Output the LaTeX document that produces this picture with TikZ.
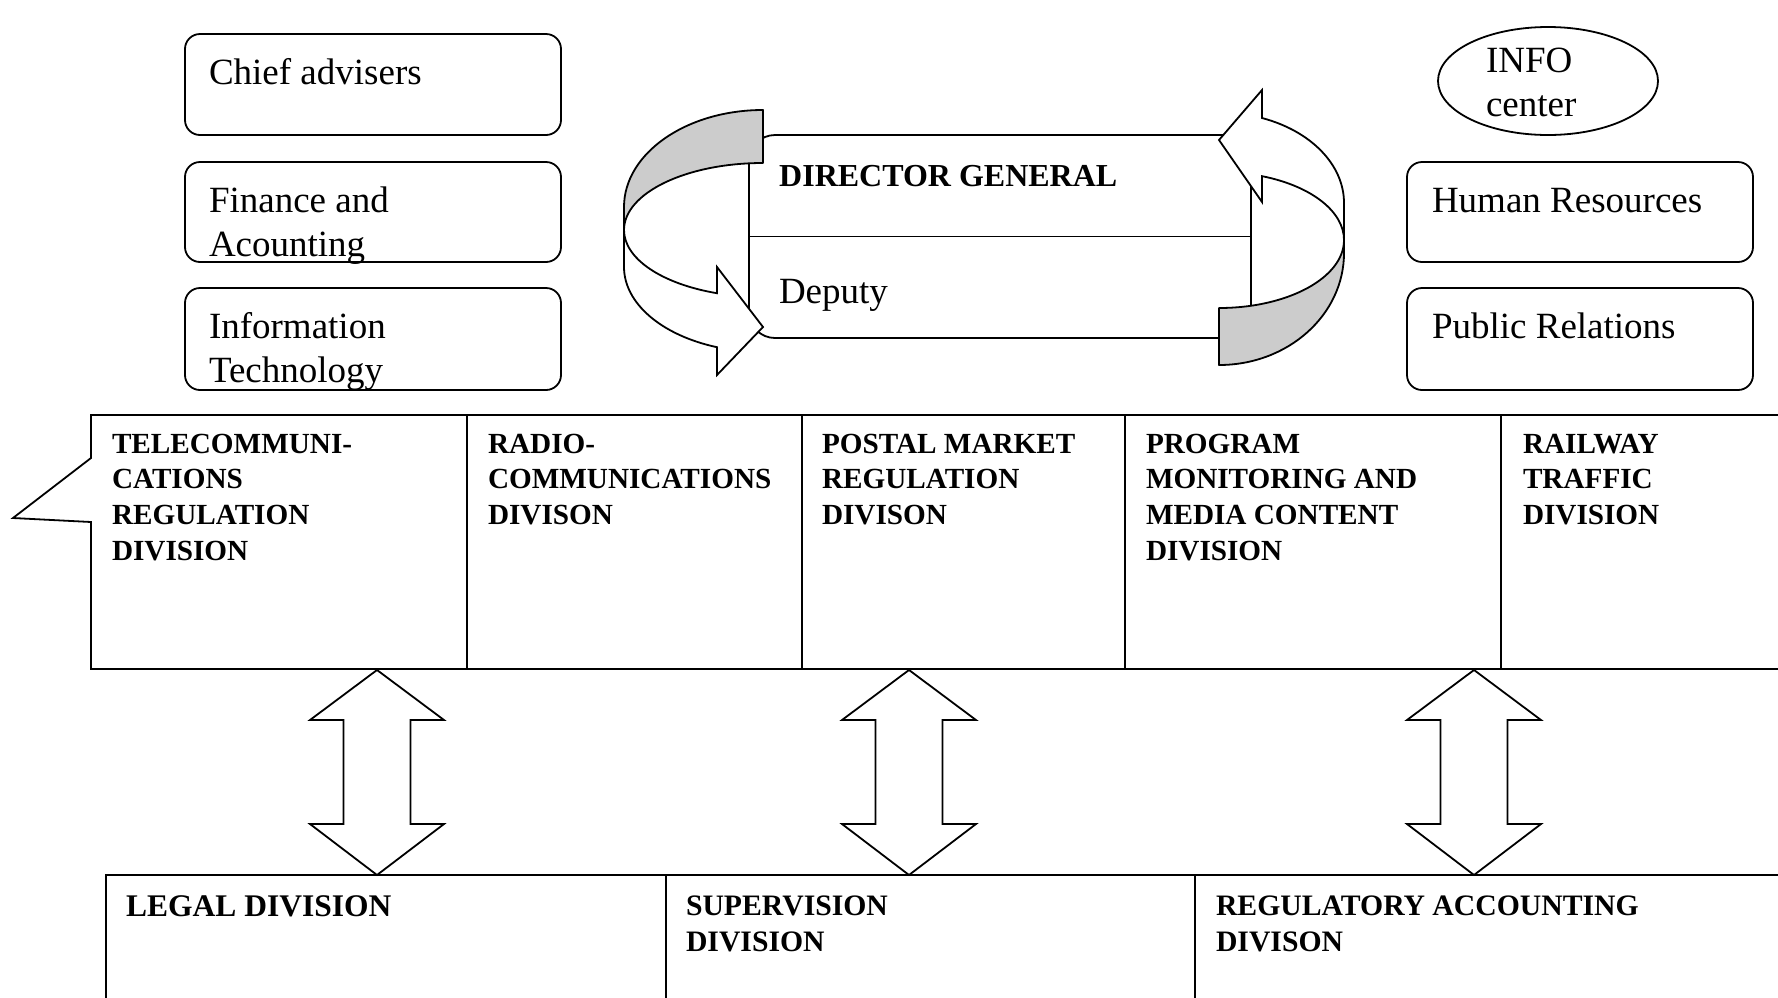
\documentclass[tikz,border=0pt]{standalone}
\usepackage{fontspec}
\setmainfont{Liberation Serif}
\usetikzlibrary{shapes.geometric}
\begin{document}
\begin{tikzpicture}[x=1pt,y=-1pt,
  ln/.style={line width=1.8pt},
  rbox/.style={draw,ln,rounded corners=15pt,anchor=north west,inner sep=0pt,outer sep=0pt},
  sbox/.style={draw,ln,anchor=north west,inner sep=0pt,outer sep=0pt},
  txt/.style={anchor=base west,inner sep=0pt,outer sep=0pt,font=\fontsize{37}{44.5}\selectfont},
  btxt/.style={anchor=base west,inner sep=0pt,outer sep=0pt,font=\fontsize{29.2}{35.7}\selectfont\bfseries},
  bbtxt/.style={anchor=base west,inner sep=0pt,outer sep=0pt,font=\fontsize{29.7}{36}\selectfont\bfseries},
  backband/.style={draw,ln,fill=black!20,line join=round},
  frontband/.style={draw,ln,fill=white,line join=miter},
  blk/.style={draw,ln,fill=white,line join=miter}]
\useasboundingbox (0,0) rectangle (1778,997);
\clip (0,0) rectangle (1778,997);

% left column boxes
\node[rbox,minimum width=376pt,minimum height=101pt] (chief) at (185,34) {};
\node[rbox,minimum width=376pt,minimum height=100pt] (fin) at (185,162) {};
\node[rbox,minimum width=376pt,minimum height=102pt] (it) at (185,288) {};
\node[txt] (chiefT) at (209,84) {Chief advisers};
\node[txt] (finT) at (209,212) {\begin{tabular}[t]{@{}l@{}}Finance and\\Acounting\end{tabular}};
\node[txt] (itT) at (209,338) {\begin{tabular}[t]{@{}l@{}}Information\\Technology\end{tabular}};

% right column
\node[draw,ln,ellipse,minimum width=220pt,minimum height=108pt,inner sep=0pt] (info) at (1548,81) {};
\node[txt] (infoT) at (1486,72) {\begin{tabular}[t]{@{}l@{}}INFO\\center\end{tabular}};
\node[rbox,minimum width=346pt,minimum height=100pt] (hr) at (1407,162) {};
\node[rbox,minimum width=346pt,minimum height=102pt] (pr) at (1407,288) {};
\node[txt] (hrT) at (1432,212) {Human Resources};
\node[txt] (prT) at (1432,338) {Public Relations};

% director general
\node[draw,ln,rounded corners=26pt,anchor=north west,minimum width=502pt,minimum height=203pt,inner sep=0pt,outer sep=0pt] (dg) at (749,135) {};
\draw[ln] (dg.west) -- (dg.east);
\node[anchor=base west,inner sep=0pt,font=\fontsize{32}{38}\selectfont\bfseries] (dgT) at (779,186) {DIRECTOR GENERAL};
\node[txt] (depT) at (779,303) {Deputy};

% left curved arrow
\draw[backband] (763,110) arc[start angle=270,end angle=180,x radius=139,y radius=97]
  -- (624,230) arc[start angle=180,end angle=270,x radius=139,y radius=67] -- cycle;
\draw[frontband] (624,230) arc[start angle=180,end angle=109.33,x radius=139,y radius=67]
  -- (717,267) -- (763,327) -- (717,375) -- (717,347.2)
  arc[start angle=109.33,end angle=180,x radius=139,y radius=85] -- cycle;

% right curved arrow
\draw[backband] (1219,365) arc[start angle=90,end angle=0,x radius=125,y radius=112]
  -- (1344,240) arc[start angle=0,end angle=90,x radius=125,y radius=68] -- cycle;
\draw[frontband] (1344,240) arc[start angle=0,end angle=-69.88,x radius=125,y radius=68]
  -- (1262,202) -- (1219,140) -- (1262,90) -- (1262,118)
  arc[start angle=-69.88,end angle=0,x radius=125,y radius=90.5] -- cycle;

% division row
\draw[ln,line join=miter] (91,415) -- (467,415) -- (467,669) -- (91,669) -- (91,522) -- (13,518) -- (91,458) -- cycle;
\node[sbox,minimum width=335pt,minimum height=254pt] (radio) at (467,415) {};
\node[sbox,minimum width=323pt,minimum height=254pt] (postal) at (802,415) {};
\node[sbox,minimum width=376pt,minimum height=254pt] (program) at (1125,415) {};
\node[sbox,minimum width=300pt,minimum height=254pt] (railway) at (1501,415) {};

\node[btxt] (t1) at (112,453) {\begin{tabular}[t]{@{}l@{}}TELECOMMUNI-\\CATIONS\\REGULATION\\DIVISION\end{tabular}};
\node[btxt] (t2) at (488,453) {\begin{tabular}[t]{@{}l@{}}RADIO-\\COMMUNICATIONS\\DIVISON\end{tabular}};
\node[btxt] (t3) at (822,453) {\begin{tabular}[t]{@{}l@{}}POSTAL MARKET\\REGULATION\\DIVISON\end{tabular}};
\node[btxt] (t4) at (1146,453) {\begin{tabular}[t]{@{}l@{}}PROGRAM\\MONITORING AND\\MEDIA CONTENT\\DIVISION\end{tabular}};
\node[btxt] (t5) at (1523,453) {\begin{tabular}[t]{@{}l@{}}RAILWAY\\TRAFFIC\\DIVISION\end{tabular}};

% bottom row
\node[sbox,minimum width=560pt,minimum height=160pt] (legal) at (106,875) {};
\node[sbox,minimum width=529pt,minimum height=160pt] (superv) at (666,875) {};
\node[sbox,minimum width=620pt,minimum height=160pt] (regacc) at (1195,875) {};
\node[anchor=base west,inner sep=0pt,font=\fontsize{31.5}{38}\selectfont\bfseries] (b1) at (126,916) {LEGAL DIVISION};
\node[bbtxt] (b2) at (686,915) {\begin{tabular}[t]{@{}l@{}}SUPERVISION\\DIVISION\end{tabular}};
\node[bbtxt] (b3) at (1216,915) {\begin{tabular}[t]{@{}l@{}}REGULATORY ACCOUNTING\\DIVISON\end{tabular}};

% double block arrows
\foreach \cx in {377,909,1474}{
  \draw[blk] (\cx,670) -- (\cx+67,720) -- (\cx+33.5,720) -- (\cx+33.5,824) -- (\cx+67,824)
    -- (\cx,875) -- (\cx-67,824) -- (\cx-33.5,824) -- (\cx-33.5,720) -- (\cx-67,720) -- cycle;
}
\end{tikzpicture}
\end{document}
